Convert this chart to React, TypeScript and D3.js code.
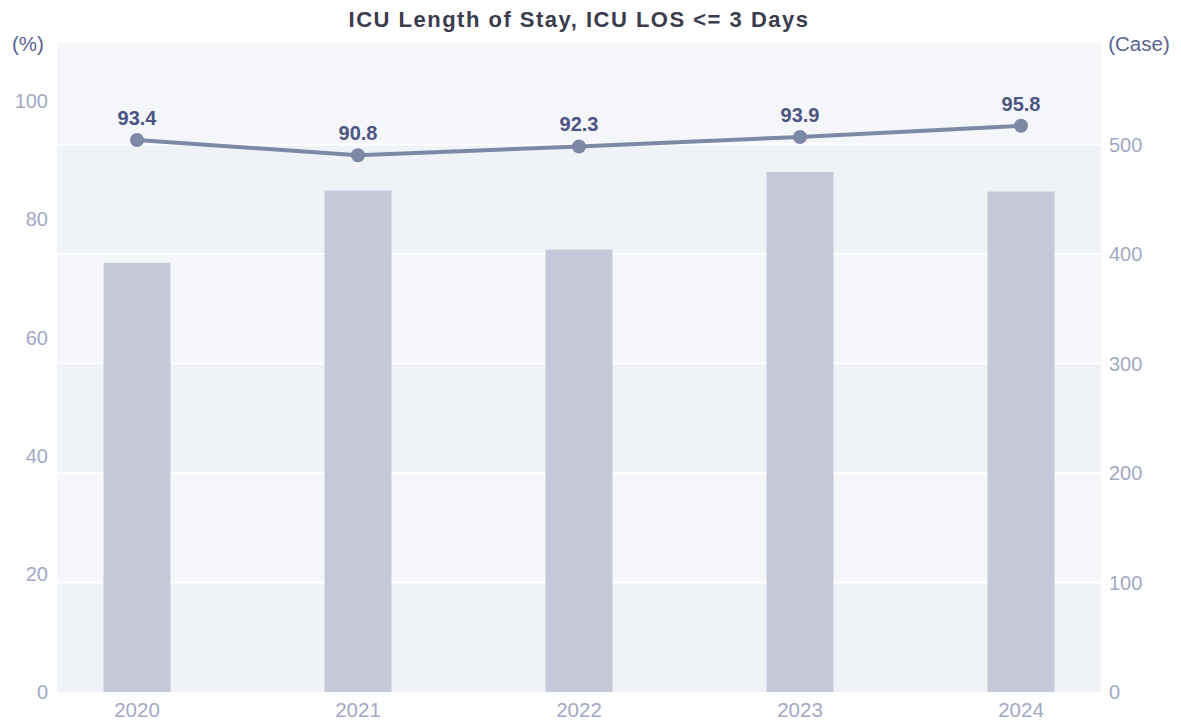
import React from "react";
import * as d3 from "d3";

const years = ["2020", "2021", "2022", "2023", "2024"];
const caseCounts = [392, 458, 404, 475, 457];
const rates = [93.4, 90.8, 92.3, 93.9, 95.8];
const leftTicks = [0, 20, 40, 60, 80, 100];
const rightTicks = [0, 100, 200, 300, 400, 500];

const W = 1181;
const H = 722;
const margin = { top: 43, right: 80, bottom: 30, left: 57 };
const font = "'Liberation Sans', Arial, sans-serif";

export default function App() {
  const svgRef = React.useRef<SVGSVGElement>(null);

  React.useEffect(() => {
    const x0 = margin.left;
    const x1 = W - margin.right;
    const yTop = margin.top;
    const yBot = H - margin.bottom;

    const x = d3.scalePoint<string>().domain(years).range([x0, x1]).padding(0.362);
    const yL = d3.scaleLinear().domain([0, 109.8]).range([yBot, yTop]);
    const yR = d3.scaleLinear().domain([0, 592.7]).range([yBot, yTop]);

    const svgEl = d3.select(svgRef.current);
    svgEl.selectAll("*").remove();
    const svg = svgEl.append("g");

    // alternating background bands between right-axis gridlines
    const edges = [...rightTicks, 592.7];
    svg
      .append("g")
      .selectAll("rect")
      .data(d3.pairs(edges))
      .enter()
      .append("rect")
      .attr("x", x0)
      .attr("width", x1 - x0)
      .attr("y", (d) => yR(d[1]))
      .attr("height", (d) => yR(d[0]) - yR(d[1]))
      .attr("fill", (d, i) => (i % 2 === 0 ? "#eff2f7" : "#f5f6fa"));

    // gridlines
    svg
      .append("g")
      .selectAll("line")
      .data(rightTicks.slice(1))
      .enter()
      .append("line")
      .attr("x1", x0)
      .attr("x2", x1)
      .attr("y1", (d) => yR(d))
      .attr("y2", (d) => yR(d))
      .attr("stroke", "#ffffff")
      .attr("stroke-width", 2);

    // bars
    const bw = 67;
    svg
      .append("g")
      .selectAll("rect")
      .data(caseCounts)
      .enter()
      .append("rect")
      .attr("x", (d, i) => (x(years[i]) as number) - bw / 2)
      .attr("width", bw)
      .attr("y", (d) => yR(d))
      .attr("height", (d) => yR(0) - yR(d))
      .attr("fill", "#c5c8d8");

    // line
    const line = d3
      .line<number>()
      .x((d, i) => x(years[i]) as number)
      .y((d) => yL(d));
    svg
      .append("path")
      .attr("d", line(rates))
      .attr("fill", "none")
      .attr("stroke", "#7d88a7")
      .attr("stroke-width", 4);

    svg
      .append("g")
      .selectAll("circle")
      .data(rates)
      .enter()
      .append("circle")
      .attr("cx", (d, i) => x(years[i]) as number)
      .attr("cy", (d) => yL(d))
      .attr("r", 7)
      .attr("fill", "#7d88a7");

    svg
      .append("g")
      .selectAll("text")
      .data(rates)
      .enter()
      .append("text")
      .attr("x", (d, i) => x(years[i]) as number)
      .attr("y", (d) => yL(d) - 15)
      .attr("text-anchor", "middle")
      .attr("font-family", font)
      .attr("font-size", 20)
      .attr("font-weight", "bold")
      .attr("fill", "#4b5581")
      .text((d) => d.toFixed(1));

    // left ticks
    svg
      .append("g")
      .selectAll("text")
      .data(leftTicks)
      .enter()
      .append("text")
      .attr("x", 48)
      .attr("y", (d) => yL(d))
      .attr("dy", "0.36em")
      .attr("text-anchor", "end")
      .attr("font-family", font)
      .attr("font-size", 20)
      .attr("fill", "#a3a8c3")
      .text((d) => d);

    // right ticks
    svg
      .append("g")
      .selectAll("text")
      .data(rightTicks)
      .enter()
      .append("text")
      .attr("x", 1109)
      .attr("y", (d) => yR(d))
      .attr("dy", "0.36em")
      .attr("text-anchor", "start")
      .attr("font-family", font)
      .attr("font-size", 20)
      .attr("fill", "#a3a8c3")
      .text((d) => d);

    // x labels
    svg
      .append("g")
      .selectAll("text")
      .data(years)
      .enter()
      .append("text")
      .attr("x", (d) => x(d) as number)
      .attr("y", 717)
      .attr("text-anchor", "middle")
      .attr("font-family", font)
      .attr("font-size", 20.5)
      .attr("fill", "#a3a8c3")
      .text((d) => d);

    // axis titles
    svg
      .append("text")
      .attr("x", 28)
      .attr("y", 51)
      .attr("text-anchor", "middle")
      .attr("font-family", font)
      .attr("font-size", 20.5)
      .attr("fill", "#5a6391")
      .text("(%)");
    svg
      .append("text")
      .attr("x", 1139)
      .attr("y", 51)
      .attr("text-anchor", "middle")
      .attr("font-family", font)
      .attr("font-size", 20.5)
      .attr("fill", "#5a6391")
      .text("(Case)");

    svg
      .append("text")
      .attr("x", 579)
      .attr("y", 27)
      .attr("text-anchor", "middle")
      .attr("font-family", font)
      .attr("font-size", 22)
      .attr("letter-spacing", 1.5)
      .attr("font-weight", "bold")
      .attr("fill", "#3a3c4e")
      .text("ICU Length of Stay, ICU LOS <= 3 Days");
  }, []);

  return (
    <svg
      ref={svgRef}
      width={W}
      height={H}
      style={{ position: "absolute", left: 0, top: 0, background: "#fff" }}
    />
  );
}
